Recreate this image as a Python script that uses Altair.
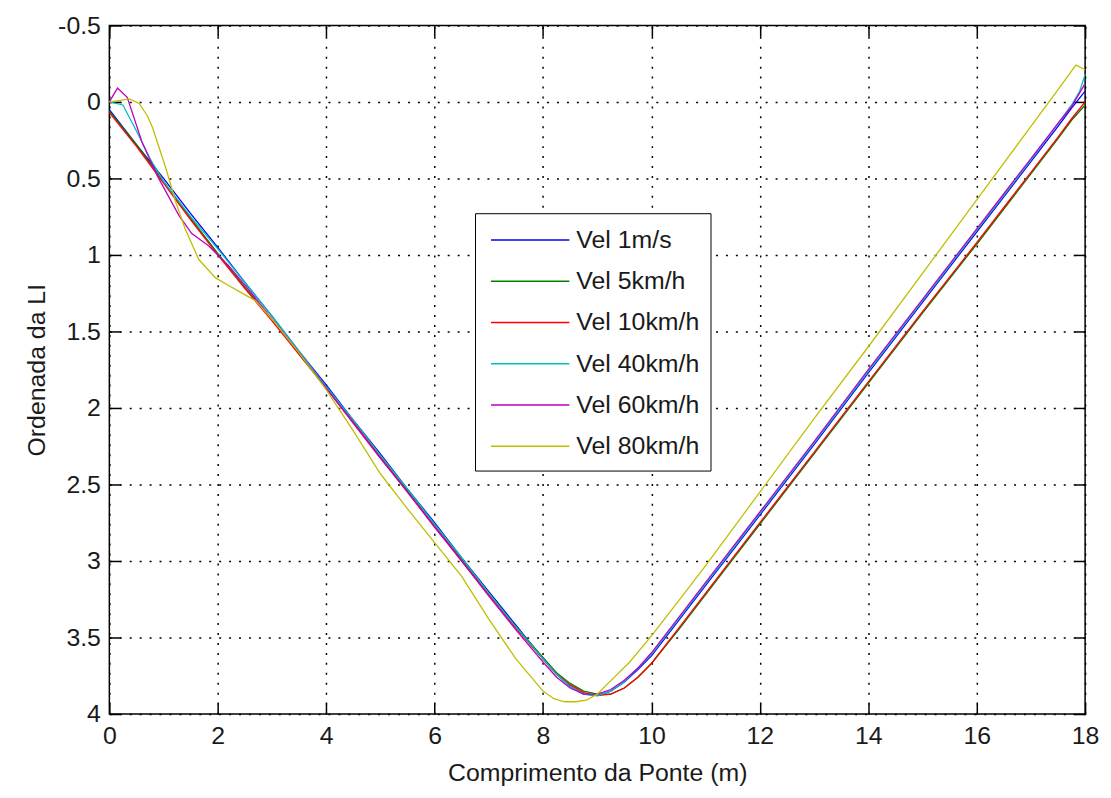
import altair as alt
import pandas as pd

SERIES = ["Vel 1m/s", "Vel 5km/h", "Vel 10km/h", "Vel 40km/h", "Vel 60km/h", "Vel 80km/h"]
COLORS = ["#0000FF", "#008000", "#FF0000", "#00BFBF", "#BF00BF", "#BFBF00"]

X_TICKS = [0, 2, 4, 6, 8, 10, 12, 14, 16, 18]
Y_TICKS = [-0.5, 0, 0.5, 1, 1.5, 2, 2.5, 3, 3.5, 4]

X_MAIN = [0, 0.5, 1, 1.5, 2, 2.5, 3, 3.5, 4, 4.5, 5, 5.5, 6, 6.5, 7, 7.5, 8, 8.25, 8.5, 8.75,
          9, 9.25, 9.5, 9.75, 10, 10.5, 11, 11.5, 12, 13, 14, 15, 16, 16.5, 17, 17.5, 17.75, 18]
Y_BLUE = [0.05, 0.28, 0.50, 0.73, 0.95, 1.18, 1.40, 1.63, 1.85, 2.08, 2.30, 2.53, 2.75, 2.98, 3.20,
          3.42, 3.64, 3.74, 3.82, 3.87, 3.88, 3.85, 3.79, 3.71, 3.62, 3.39, 3.16, 2.93, 2.70, 2.24,
          1.77, 1.31, 0.85, 0.62, 0.39, 0.16, 0.04, -0.07]
Y_GREEN = [0.06, 0.28, 0.52, 0.76, 0.99, 1.21, 1.42, 1.65, 1.87, 2.09, 2.32, 2.54, 2.77, 2.99, 3.21,
           3.43, 3.63, 3.73, 3.80, 3.85, 3.87, 3.87, 3.83, 3.76, 3.67, 3.45, 3.22, 2.99, 2.76, 2.30,
           1.84, 1.38, 0.93, 0.70, 0.47, 0.24, 0.12, 0.02]
Y_RED = [0.07, 0.29, 0.53, 0.77, 1.00, 1.22, 1.43, 1.65, 1.87, 2.09, 2.32, 2.55, 2.77, 3.00, 3.22,
         3.44, 3.64, 3.74, 3.81, 3.86, 3.88, 3.87, 3.83, 3.76, 3.67, 3.44, 3.21, 2.98, 2.75, 2.29,
         1.83, 1.37, 0.92, 0.69, 0.46, 0.23, 0.11, 0.00]

X_CYAN = [0, 0.25, 0.5, 0.75, 1, 1.5, 2, 2.5, 3, 3.5, 4, 4.5, 5, 5.5, 6, 6.5, 7, 7.5, 8, 8.25, 8.5,
          8.75, 9, 9.25, 9.5, 9.75, 10, 10.5, 11, 11.5, 12, 13, 14, 15, 16, 16.5, 17, 17.5, 17.75,
          17.9, 18]
Y_CYAN = [0.00, 0.02, 0.19, 0.37, 0.52, 0.75, 0.96, 1.18, 1.40, 1.63, 1.86, 2.08, 2.31, 2.53, 2.76,
          2.98, 3.21, 3.43, 3.64, 3.74, 3.82, 3.87, 3.88, 3.85, 3.79, 3.70, 3.61, 3.38, 3.15, 2.92,
          2.69, 2.23, 1.76, 1.30, 0.84, 0.61, 0.38, 0.14, 0.02, -0.07, -0.18]

X_PURPLE = [0, 0.15, 0.33, 0.6, 0.88, 1.28, 1.52, 1.83, 2.2, 2.6, 3, 3.5, 4, 4.5, 5, 5.5, 6, 6.5, 7,
            7.5, 8, 8.25, 8.5, 8.75, 9, 9.25, 9.5, 9.75, 10, 10.5, 11, 11.5, 12, 13, 14, 15, 16,
            16.5, 17, 17.5, 17.75, 18]
Y_PURPLE = [0.00, -0.09, -0.03, 0.26, 0.48, 0.74, 0.86, 0.94, 1.07, 1.24, 1.42, 1.64, 1.87, 2.10,
            2.33, 2.55, 2.78, 3.00, 3.23, 3.45, 3.66, 3.76, 3.83, 3.87, 3.87, 3.84, 3.78, 3.70, 3.60,
            3.37, 3.14, 2.91, 2.68, 2.22, 1.75, 1.29, 0.83, 0.60, 0.37, 0.14, 0.03, -0.12]

X_YELLOW = [0, 0.2, 0.37, 0.55, 0.7, 0.8, 0.9, 1.04, 1.22, 1.4, 1.65, 1.96, 2.2, 2.4, 2.7, 3, 3.5,
            4, 4.5, 5, 5.5, 6, 6.5, 7, 7.5, 8, 8.2, 8.4, 8.6, 8.8, 9, 9.2, 9.6, 10, 10.5, 11, 12,
            13, 14, 15, 16, 17, 17.5, 17.83, 18]
Y_YELLOW = [0.00, -0.01, -0.02, 0.01, 0.09, 0.17, 0.28, 0.43, 0.65, 0.83, 1.03, 1.15, 1.20, 1.24,
            1.30, 1.42, 1.64, 1.88, 2.15, 2.43, 2.66, 2.88, 3.10, 3.38, 3.64, 3.85, 3.90, 3.92,
            3.92, 3.91, 3.87, 3.80, 3.66, 3.49, 3.26, 3.03, 2.55, 2.07, 1.60, 1.12, 0.64, 0.16,
            -0.08, -0.24, -0.21]

XS = [X_MAIN, X_MAIN, X_MAIN, X_CYAN, X_PURPLE, X_YELLOW]
YS = [Y_BLUE, Y_GREEN, Y_RED, Y_CYAN, Y_PURPLE, Y_YELLOW]

rows = []
for name, xs, ys in zip(SERIES, XS, YS):
    for xv, yv in zip(xs, ys):
        rows.append({"x": xv, "y": yv, "series": name})
df = pd.DataFrame(rows)

FONT = "Liberation Sans"
TXT = "#1a1a1a"
W, H = 982, 693

xscale = alt.Scale(domain=[0, 18], nice=False, zero=False)
yscale = alt.Scale(domain=[-0.5, 4], reverse=True, nice=False, zero=False)

lines = alt.Chart(df).mark_line(strokeWidth=1.3).encode(
    x=alt.X("x:Q", scale=xscale, axis=alt.Axis(
        orient="bottom", values=X_TICKS, title="Comprimento da Ponte (m)",
        grid=True, gridColor="#000000", gridDash=[2, 8], gridWidth=1.5, gridOpacity=1,
        ticks=False, tickSize=0, domain=False,
        labelExpr="toString(datum.value)", labelPadding=10, labelFontSize=25, labelFont=FONT,
        labelColor=TXT, labelFlush=False,
        titleFontSize=25, titleFont=FONT, titleFontWeight="normal", titleColor=TXT,
        titleY=59, titleBaseline="middle")),
    y=alt.Y("y:Q", scale=yscale, axis=alt.Axis(
        orient="left", values=Y_TICKS, title="Ordenada da LI",
        grid=True, gridColor="#000000", gridDash=[2, 8], gridWidth=1.5, gridOpacity=1,
        ticks=False, tickSize=0, domain=False,
        labelExpr="toString(datum.value)", labelPadding=9, labelFontSize=25, labelFont=FONT,
        labelColor=TXT, labelFlush=False,
        titleFontSize=25, titleFont=FONT, titleFontWeight="normal", titleColor=TXT,
        titleX=-73, titleY=H / 2, titleBaseline="middle")),
    color=alt.Color("series:N", scale=alt.Scale(domain=SERIES, range=COLORS), legend=alt.Legend(
        title=None, orient="none", legendX=368, legendY=189,
        symbolType="M-0.73,0H4.53", symbolSize=900, symbolStrokeWidth=1.6,
        labelFontSize=25, labelFont=FONT, labelColor=TXT, labelOffset=59,
        padding=11, rowPadding=12.5, strokeColor="#000000", fillColor="#ffffff")),
)

tick_axis = dict(labels=False, title="", grid=False, domain=False, ticks=True,
                 tickSize=11, offset=-11, tickColor="#000000", tickWidth=1.5)

ticks_bl = alt.Chart(df).mark_point(opacity=0).encode(
    x=alt.X("x:Q", scale=xscale, axis=alt.Axis(orient="bottom", values=X_TICKS, **tick_axis)),
    y=alt.Y("y:Q", scale=yscale, axis=alt.Axis(orient="left", values=Y_TICKS, **tick_axis)),
)
ticks_tr = alt.Chart(df).mark_point(opacity=0).encode(
    x=alt.X("x:Q", scale=xscale, axis=alt.Axis(orient="top", values=X_TICKS, **tick_axis)),
    y=alt.Y("y:Q", scale=yscale, axis=alt.Axis(orient="right", values=Y_TICKS, **tick_axis)),
)

chart = alt.layer(lines, ticks_bl, ticks_tr).resolve_axis(
    x="independent", y="independent"
).properties(
    width=W, height=H,
    autosize=alt.AutoSizeParams(type="none"),
    padding={"left": 102, "top": 15, "right": 18, "bottom": 80},
    background="#ffffff",
).configure_view(stroke="#000000", strokeWidth=1.5)

chart.save("out.html", embed_options={"renderer": "svg", "actions": False})
